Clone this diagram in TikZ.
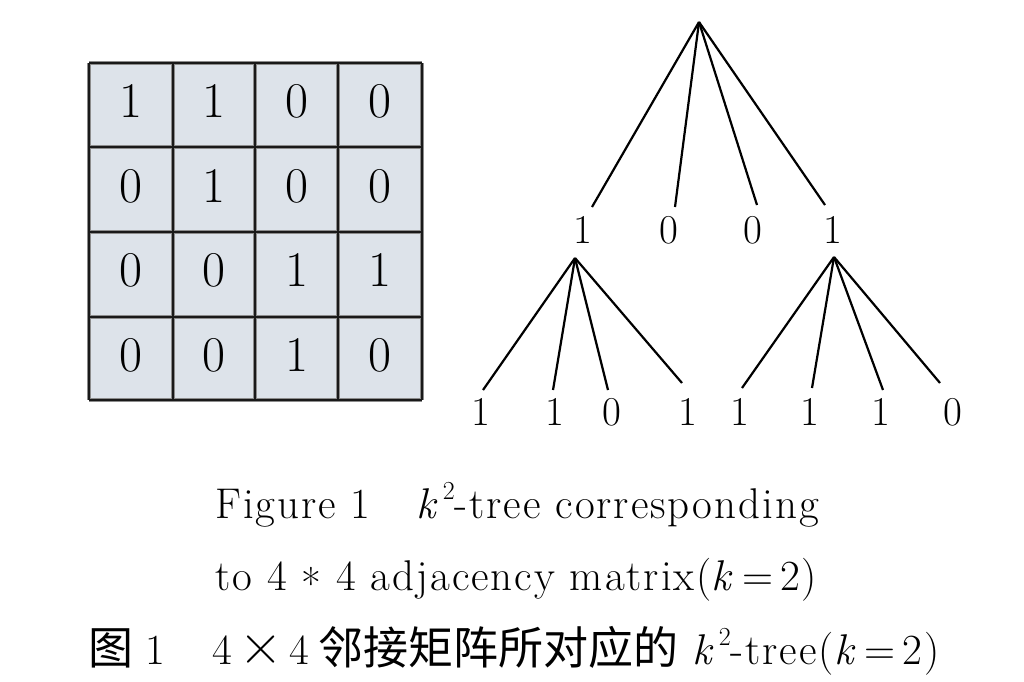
\documentclass[tikz,border=0pt]{standalone}
\usepackage{fontspec}
\newfontfamily\cjk{Noto Sans CJK SC}
\newfontfamily\capfont{Latin Modern Roman}[LetterSpace=4.5]
\definecolor{cellfill}{RGB}{221,227,234}
\newcommand{\kk}{\textit{k}}
\newcommand{\ksq}{\textit{k}\kern0.08em\raisebox{0.42em}{\fontsize{26}{26}\selectfont 2}}
\newcommand{\midast}{\raisebox{-0.22em}{*}}
\newcommand{\bigtimes}{{\fontsize{60}{60}\selectfont ×}}
\tikzset{
  gridline/.style={line width=2.2pt, draw=black!90},
  gridhalo/.style={line width=4pt, draw=black!45},
  mdigit/.style={inner sep=0pt, anchor=base, font=\fontsize{50}{50}\selectfont},
  tdigit/.style={inner sep=0pt, anchor=base, font=\fontsize{41}{41}\selectfont},
  treeline/.style={line width=2.2pt, draw=black},
  captext/.style={inner sep=0pt, anchor=base west, font=\capfont\fontsize{43}{43}\selectfont},
  cjktext/.style={inner sep=0pt, anchor=base west, font=\fontsize{45}{45}\selectfont\cjk},
}
\begin{document}
\begin{tikzpicture}[x=1pt,y=-1pt]
\useasboundingbox (0,0) rectangle (1024,681);
% matrix
\fill[cellfill] (89,63) rectangle (422,400);
\foreach \x in {89,173,255,338,422} \draw[gridhalo] (\x,63) -- (\x,400);
\foreach \y in {63,147,232,317,400} \draw[gridhalo] (89,\y) -- (422,\y);
\foreach \x in {89,173,255,338,422} \draw[gridline] (\x,63) -- (\x,400);
\foreach \y in {63,147,232,317,400} \draw[gridline] (89,\y) -- (422,\y);
% digits
\foreach \r/\yy/\a/\b/\c/\d in {1/117/1/1/0/0, 2/202/0/1/0/0, 3/286/0/0/1/1, 4/371/0/0/1/0}{
  \node[mdigit] (m\r a) at (131,\yy) {\a};
  \node[mdigit] (m\r b) at (214,\yy) {\b};
  \node[mdigit] (m\r c) at (296.5,\yy) {\c};
  \node[mdigit] (m\r d) at (380,\yy) {\d};
}
% tree
\coordinate (root) at (699,22);
\node[tdigit] (n1) at (583,243) {1};
\node[tdigit] (n2) at (669,243) {0};
\node[tdigit] (n3) at (753,243) {0};
\node[tdigit] (n4) at (833,243) {1};
\coordinate (e1) at (592,207);
\coordinate (e2) at (675,207);
\coordinate (e3) at (757,205);
\coordinate (e4) at (825,205);
\foreach \e in {e1,e2,e3,e4} \draw[treeline] (root) -- (\e);
\coordinate (h1) at (575,258);
\coordinate (h4) at (834,257);
\node[tdigit] (c1) at (481,425) {1};
\node[tdigit] (c2) at (555,425) {1};
\node[tdigit] (c3) at (612,425) {0};
\node[tdigit] (c4) at (688,425) {1};
\node[tdigit] (c5) at (740,425) {1};
\node[tdigit] (c6) at (810,425) {1};
\node[tdigit] (c7) at (881,425) {1};
\node[tdigit] (c8) at (953,425) {0};
\coordinate (f1) at (483,390);
\coordinate (f2) at (553,390);
\coordinate (f3) at (608,390);
\coordinate (f4) at (682,383);
\coordinate (f5) at (742,388);
\coordinate (f6) at (812,388);
\coordinate (f7) at (883,390);
\coordinate (f8) at (940,383);
\foreach \f in {f1,f2,f3,f4} \draw[treeline] (h1) -- (\f);
\foreach \f in {f5,f6,f7,f8} \draw[treeline] (h4) -- (\f);
% captions
\node[captext] (cap1a) at (215,518) {Figure 1};
\node[captext] (cap1b) at (416,518) {\ksq-tree corresponding};
\node[captext] (cap2) at (215,590) {to 4 \midast\ 4 adjacency matrix(\kk\,=\,2)};
\node[cjktext] (cap3a) at (88,664) {图};
\node[captext] (cap3b) at (145,664) {1};
\node[captext] (cap3c) at (212,664) {4\,\bigtimes\,4};
\node[cjktext] (cap3d) at (318,664) {邻接矩阵所对应的};
\node[captext] (cap3e) at (692,664) {\ksq-tree(\kk\,=\,2)};
\end{tikzpicture}
\end{document}
